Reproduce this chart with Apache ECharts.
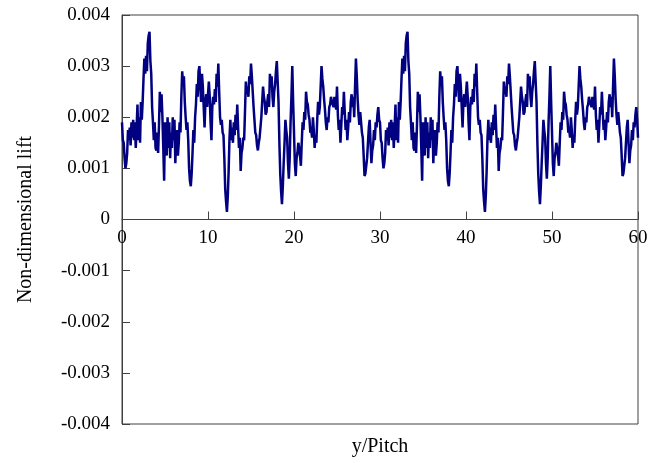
<!DOCTYPE html>
<html>
<head>
<meta charset="utf-8">
<script src="https://cdn.jsdelivr.net/npm/echarts@6/dist/echarts.min.js"></script>
<style>
html,body{margin:0;padding:0;background:#fff;}
#chart{width:666px;height:463px;}
</style>
</head>
<body>
<div id="chart"></div>
<script>
// sampling step along y/Pitch
const pitchStep = 0.1;
// Non-dimensional lift, y/Pitch 0 .. 29.9
const liftA = [
0.00190,0.00155,0.00150,0.00120,0.00100,0.00110,0.00130,0.00175,0.00155,0.00180,
0.00145,0.00190,0.00160,0.00195,0.00155,0.00190,0.00140,0.00180,0.00225,0.00155,
0.00200,0.00150,0.00230,0.00195,0.00230,0.00275,0.00315,0.00285,0.00320,0.00290,
0.00345,0.00360,0.00367,0.00310,0.00285,0.00220,0.00190,0.00155,0.00190,0.00140,
0.00135,0.00170,0.00130,0.00185,0.00250,0.00210,0.00245,0.00200,0.00140,0.00076,
0.00190,0.00160,0.00125,0.00200,0.00140,0.00190,0.00120,0.00170,0.00140,0.00200,
0.00155,0.00195,0.00110,0.00160,0.00175,0.00125,0.00150,0.00190,0.00170,0.00240,
0.00290,0.00265,0.00280,0.00230,0.00200,0.00175,0.00190,0.00155,0.00100,0.00075,
0.00065,0.00090,0.00130,0.00175,0.00150,0.00200,0.00225,0.00265,0.00240,0.00290,
0.00300,0.00260,0.00230,0.00285,0.00260,0.00220,0.00180,0.00230,0.00245,0.00220,
0.00220,0.00270,0.00240,0.00190,0.00155,0.00220,0.00240,0.00225,0.00255,0.00230,
0.00285,0.00260,0.00305,0.00250,0.00200,0.00185,0.00195,0.00170,0.00165,0.00120,
0.00060,0.00035,0.00015,0.00045,0.00095,0.00160,0.00195,0.00155,0.00180,0.00150,
0.00190,0.00165,0.00205,0.00175,0.00225,0.00180,0.00140,0.00160,0.00095,0.00130,
0.00140,0.00160,0.00155,0.00210,0.00270,0.00245,0.00260,0.00240,0.00280,0.00265,
0.00305,0.00280,0.00250,0.00220,0.00195,0.00170,0.00165,0.00145,0.00135,0.00150,
0.00160,0.00180,0.00200,0.00230,0.00260,0.00240,0.00230,0.00205,0.00210,0.00230,
0.00245,0.00220,0.00285,0.00260,0.00280,0.00240,0.00220,0.00250,0.00265,0.00290,
0.00310,0.00270,0.00230,0.00150,0.00090,0.00055,0.00030,0.00065,0.00110,0.00150,
0.00195,0.00175,0.00160,0.00110,0.00080,0.00120,0.00190,0.00240,0.00300,0.00230,
0.00170,0.00110,0.00085,0.00120,0.00130,0.00150,0.00140,0.00125,0.00105,0.00150,
0.00190,0.00175,0.00210,0.00195,0.00250,0.00230,0.00225,0.00205,0.00195,0.00170,
0.00175,0.00160,0.00200,0.00175,0.00140,0.00165,0.00150,0.00195,0.00230,0.00205,
0.00220,0.00260,0.00300,0.00275,0.00260,0.00235,0.00215,0.00190,0.00175,0.00200,
0.00190,0.00220,0.00225,0.00240,0.00230,0.00225,0.00220,0.00240,0.00230,0.00215,
0.00260,0.00205,0.00175,0.00195,0.00150,0.00185,0.00220,0.00205,0.00250,0.00210,
0.00175,0.00195,0.00155,0.00180,0.00210,0.00190,0.00230,0.00245,0.00220,0.00240,
0.00200,0.00260,0.00315,0.00280,0.00235,0.00205,0.00185,0.00210,0.00190,0.00170,
0.00160,0.00125,0.00085,0.00090,0.00090,0.00120,0.00150,0.00180,0.00195,0.00150,
0.00110,0.00135,0.00145,0.00175,0.00155,0.00190,0.00180,0.00205,0.00220,0.00195
];
// Non-dimensional lift, y/Pitch 30 .. 60
const liftB = [
0.00190,0.00155,0.00150,0.00120,0.00100,0.00110,0.00130,0.00175,0.00155,0.00180,
0.00145,0.00190,0.00160,0.00195,0.00155,0.00190,0.00140,0.00180,0.00225,0.00155,
0.00200,0.00150,0.00230,0.00195,0.00230,0.00275,0.00315,0.00285,0.00320,0.00290,
0.00345,0.00360,0.00367,0.00310,0.00285,0.00220,0.00190,0.00155,0.00190,0.00140,
0.00135,0.00170,0.00130,0.00185,0.00250,0.00210,0.00245,0.00200,0.00140,0.00076,
0.00190,0.00160,0.00125,0.00200,0.00140,0.00190,0.00120,0.00170,0.00140,0.00200,
0.00155,0.00195,0.00110,0.00160,0.00175,0.00125,0.00150,0.00190,0.00170,0.00240,
0.00290,0.00265,0.00280,0.00230,0.00200,0.00175,0.00190,0.00155,0.00100,0.00075,
0.00065,0.00090,0.00130,0.00175,0.00150,0.00200,0.00225,0.00265,0.00240,0.00290,
0.00300,0.00260,0.00230,0.00285,0.00260,0.00220,0.00180,0.00230,0.00245,0.00220,
0.00220,0.00270,0.00240,0.00190,0.00155,0.00220,0.00240,0.00225,0.00255,0.00230,
0.00285,0.00260,0.00305,0.00250,0.00200,0.00185,0.00195,0.00170,0.00165,0.00120,
0.00060,0.00035,0.00015,0.00045,0.00095,0.00160,0.00195,0.00155,0.00180,0.00150,
0.00190,0.00165,0.00205,0.00175,0.00225,0.00180,0.00140,0.00160,0.00095,0.00130,
0.00140,0.00160,0.00155,0.00210,0.00270,0.00245,0.00260,0.00240,0.00280,0.00265,
0.00305,0.00280,0.00250,0.00220,0.00195,0.00170,0.00165,0.00145,0.00135,0.00150,
0.00160,0.00180,0.00200,0.00230,0.00260,0.00240,0.00230,0.00205,0.00210,0.00230,
0.00245,0.00220,0.00285,0.00260,0.00280,0.00240,0.00220,0.00250,0.00265,0.00290,
0.00310,0.00270,0.00230,0.00150,0.00090,0.00055,0.00030,0.00065,0.00110,0.00150,
0.00195,0.00175,0.00160,0.00110,0.00080,0.00120,0.00190,0.00240,0.00300,0.00230,
0.00170,0.00110,0.00085,0.00120,0.00130,0.00150,0.00140,0.00125,0.00105,0.00150,
0.00190,0.00175,0.00210,0.00195,0.00250,0.00230,0.00225,0.00205,0.00195,0.00170,
0.00175,0.00160,0.00200,0.00175,0.00140,0.00165,0.00150,0.00195,0.00230,0.00205,
0.00220,0.00260,0.00300,0.00275,0.00260,0.00235,0.00215,0.00190,0.00175,0.00200,
0.00190,0.00220,0.00225,0.00240,0.00230,0.00225,0.00220,0.00240,0.00230,0.00215,
0.00260,0.00205,0.00175,0.00195,0.00150,0.00185,0.00220,0.00205,0.00250,0.00210,
0.00175,0.00195,0.00155,0.00180,0.00210,0.00190,0.00230,0.00245,0.00220,0.00240,
0.00200,0.00260,0.00315,0.00280,0.00235,0.00205,0.00185,0.00210,0.00190,0.00170,
0.00160,0.00125,0.00085,0.00090,0.00090,0.00120,0.00150,0.00180,0.00195,0.00150,
0.00110,0.00135,0.00145,0.00175,0.00155,0.00190,0.00180,0.00205,0.00220,0.00195,
0.00160
];
const xMin = 0, xMax = 60, xInterval = 10;
const yMin = -0.004, yMax = 0.004, yInterval = 0.001;
const xName = 'y/Pitch';
const yName = 'Non-dimensional lift';

const lift = liftA.concat(liftB);
const seriesData = lift.map((v, i) => [+(i * pitchStep).toFixed(1), v]);

const gridTop = 15, gridBottom = 39, H = 463;
// raise the x axis from the grid bottom up to the y = 0 line (half the plot height)
const zeroOffset = -(H - gridTop - gridBottom) / 2;

const font = 'Liberation Serif, Times New Roman, serif';
const chart = echarts.init(document.getElementById('chart'), null, {renderer: 'canvas'});
chart.setOption({
  animation: false,
  backgroundColor: '#ffffff',
  grid: {left: 122, right: 28, top: gridTop, bottom: gridBottom, outerBoundsMode: 'none',
    show: true, borderColor: '#404040', borderWidth: 1, backgroundColor: 'transparent'},
  xAxis: {
    type: 'value', min: xMin, max: xMax, interval: xInterval,
    position: 'bottom', offset: zeroOffset,
    name: xName, nameLocation: 'middle', nameGap: 217,
    nameTextStyle: {fontFamily: font, fontSize: 20, color: '#000'},
    axisLine: {onZero: false, lineStyle: {color: '#404040', width: 1}},
    axisTick: {inside: true, length: 8, lineStyle: {color: '#404040'}},
    axisLabel: {margin: 9, fontFamily: font, fontSize: 19, color: '#000'},
    splitLine: {show: false}
  },
  yAxis: {
    type: 'value', min: yMin, max: yMax, interval: yInterval,
    name: yName, nameLocation: 'middle', nameGap: 86, nameRotate: 90,
    nameTextStyle: {fontFamily: font, fontSize: 20, color: '#000'},
    axisLine: {show: true, onZero: false, lineStyle: {color: '#404040', width: 1}},
    axisTick: {inside: true, length: 8, lineStyle: {color: '#404040'}},
    axisLabel: {margin: 12, fontFamily: font, fontSize: 19, color: '#000',
      formatter: v => Math.abs(v) < 1e-9 ? '0' : v.toFixed(3)},
    splitLine: {show: false}
  },
  series: [{
    type: 'line', data: seriesData, showSymbol: false, smooth: false,
    lineStyle: {color: '#000080', width: 2.5}, itemStyle: {color: '#000080'}
  }]
});
</script>
</body>
</html>
